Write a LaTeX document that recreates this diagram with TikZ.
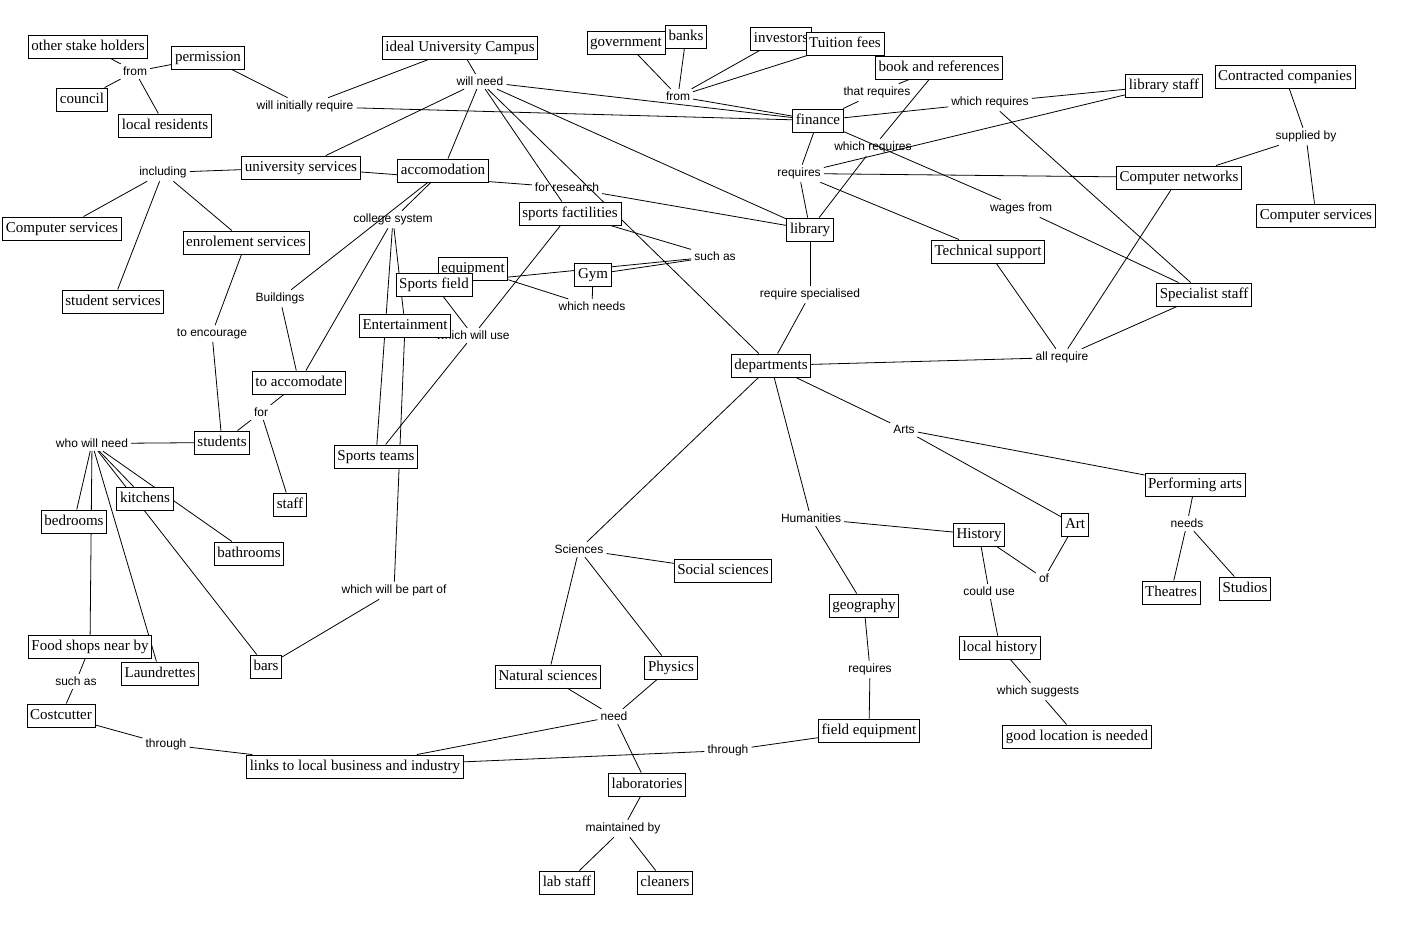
\documentclass[tikz,border=0pt]{standalone}
\usepackage{fontspec}
\setmainfont{Liberation Serif}
\newfontfamily\linkfont{Liberation Sans}
\usetikzlibrary{backgrounds}
\tikzset{
  concept/.style={draw, fill=white, line width=0.8pt, inner xsep=3.2pt, inner ysep=4.8pt,
    text height=10.5pt, text depth=3pt, font=\fontsize{15}{17}\selectfont},
  link/.style={inner sep=3pt, font=\linkfont\fontsize{12}{14}\selectfont},
  conn/.style={line width=0.8pt, black}
}
\begin{document}
\begin{tikzpicture}[x=1pt,y=-1pt]
\useasboundingbox (0,-1.5) rectangle (1418,931.5);
% link phrases
\node[link] (lFrom1) at (135,70) {from};
\node[link] (lWIR) at (305,105) {will initially require};
\node[link] (lWN) at (480,80) {will need};
\node[link] (lFrom2) at (678,95) {from};
\node[link] (lTR) at (877,91) {that requires};
\node[link] (lWR1) at (990,101) {which requires};
\node[link] (lWR2) at (873,146) {which requires};
\node[link] (lReq1) at (799,172) {requires};
\node[link] (lSup) at (1306,135) {supplied by};
\node[link] (lIncl) at (163,171) {including};
\node[link] (lForRes) at (567,186) {for research};
\node[link] (lColl) at (393,218) {college system};
\node[link] (lSuchAs1) at (715,255) {such as};
\node[link] (lWNeeds) at (592,305) {which needs};
\node[link] (lBuild) at (280,297) {Buildings};
\node[link] (lWages) at (1021,207) {wages from};
\node[link] (lReqSpec) at (810,293) {require specialised};
\node[link] (lEnc) at (212,332) {to encourage};
\node[link] (lWWU) at (473,334) {which will use};
\node[link] (lAllReq) at (1062,356) {all require};
\node[link] (lFor) at (261,411) {for};
\node[link] (lArts) at (904,428) {Arts};
\node[link] (lWWN) at (92,442) {who will need};
\node[link] (lHum) at (811,517) {Humanities};
\node[link] (lSci) at (579,548) {Sciences};
\node[link] (lNeeds) at (1187,522) {needs};
\node[link] (lOf) at (1044,577) {of};
\node[link] (lCould) at (989,590) {could use};
\node[link] (lPartOf) at (394,589) {which will be part of};
\node[link] (lReq2) at (870,668) {requires};
\node[link] (lSuchAs2) at (76,680) {such as};
\node[link] (lSugg) at (1038,690) {which suggests};
\node[link] (lNeed) at (614,715) {need};
\node[link] (lThr1) at (166,743) {through};
\node[link] (lThr2) at (728,749) {through};
\node[link] (lMaint) at (623,827) {maintained by};
% concepts
\node[concept] (osh) at (88,45) {other stake holders};
\node[concept] (perm) at (208,56) {permission};
\node[concept] (council) at (82,98) {council};
\node[concept] (locres) at (165,124) {local residents};
\node[concept] (iuc) at (460,46) {ideal University Campus};
\node[concept] (gov) at (626,41) {government};
\node[concept] (banks) at (686,35) {banks};
\node[concept] (invest) at (781,37) {investors};
\node[concept] (tuition) at (845,42) {Tuition fees};
\node[concept] (books) at (939,66) {book and references};
\node[concept] (libstaff) at (1164,84) {library staff};
\node[concept] (contracted) at (1285,75) {Contracted companies};
\node[concept] (finance) at (818,119) {finance};
\node[concept] (unisvc) at (301,166) {university services};
\node[concept] (accom) at (443,169) {accomodation};
\node[concept] (compnet) at (1179,176) {Computer networks};
\node[concept] (compsvcR) at (1316,214) {Computer services};
\node[concept] (compsvcL) at (62,227) {Computer services};
\node[concept] (enrol) at (246,241) {enrolement services};
\node[concept] (sportsfac) at (570,212) {sports factilities};
\node[concept] (library) at (810,228) {library};
\node[concept] (techsup) at (988,250) {Technical support};
\node[concept] (studsvc) at (113,300) {student services};
\node[concept] (equip) at (473,267) {equipment};
\node[concept] (sportsfield) at (434,283) {Sports field};
\node[concept] (gym) at (593,273) {Gym};
\node[concept] (specstaff) at (1204,293) {Specialist staff};
\node[concept] (entertain) at (405,324) {Entertainment};
\node[concept] (depts) at (771,364) {departments};
\node[concept] (toaccom) at (299,381) {to accomodate};
\node[concept] (students) at (222,441) {students};
\node[concept] (sportsteams) at (376,455) {Sports teams};
\node[concept] (perfarts) at (1195,483) {Performing arts};
\node[concept] (staff) at (290,503) {staff};
\node[concept] (kitchens) at (145,497) {kitchens};
\node[concept] (bedrooms) at (74,520) {bedrooms};
\node[concept] (art) at (1075,523) {Art};
\node[concept] (history) at (979,533) {History};
\node[concept] (bathrooms) at (249,552) {bathrooms};
\node[concept] (socsci) at (723,569) {Social sciences};
\node[concept] (theatres) at (1171,591) {Theatres};
\node[concept] (studios) at (1245,587) {Studios};
\node[concept] (geography) at (864,604) {geography};
\node[concept] (foodshops) at (90,645) {Food shops near by};
\node[concept] (laundrettes) at (160,672) {Laundrettes};
\node[concept] (bars) at (266,665) {bars};
\node[concept] (lochist) at (1000,646) {local history};
\node[concept] (physics) at (671,666) {Physics};
\node[concept] (natsci) at (548,675) {Natural sciences};
\node[concept] (costcutter) at (61,714) {Costcutter};
\node[concept] (fieldeq) at (869,729) {field equipment};
\node[concept] (goodloc) at (1077,735) {good location is needed};
\node[concept] (links) at (355,765) {links to local business and industry};
\node[concept] (labs) at (647,783) {laboratories};
\node[concept] (labstaff) at (567,881) {lab staff};
\node[concept] (cleaners) at (665,881) {cleaners};
% connectors
\begin{scope}[on background layer]
\foreach \a/\b in {osh/lFrom1, council/lFrom1, locres/lFrom1, perm/lFrom1,
  perm/lWIR, lWIR/iuc, lWIR/finance,
  iuc/lWN, lWN/finance, lWN/unisvc, lWN/accom, lWN/sportsfac, lWN/depts, lWN/library,
  gov/lFrom2, banks/lFrom2, invest/lFrom2, tuition/lFrom2, lFrom2/finance,
  finance/lTR, lTR/books, books/lWR2, lWR2/library,
  finance/lWR1, lWR1/libstaff, lWR1/specstaff,
  finance/lReq1, lReq1/library, lReq1/libstaff, lReq1/compnet, lReq1/techsup,
  finance/lWages, lWages/specstaff,
  contracted/lSup, lSup/compsvcR, lSup/compnet,
  compnet/lAllReq, techsup/lAllReq, specstaff/lAllReq, lAllReq/depts,
  library/lReqSpec, lReqSpec/depts,
  unisvc/lIncl, lIncl/compsvcL, lIncl/studsvc, lIncl/enrol,
  unisvc/lForRes, lForRes/library,
  accom/lColl, accom/lBuild, lBuild/toaccom, lColl/toaccom, lColl/sportsteams, lColl/entertain,
  entertain/lPartOf, lPartOf/bars,
  sportsfac/lWWU, sportsfield/lWWU, lWWU/sportsteams,
  sportsfac/lSuchAs1, lSuchAs1/gym, lSuchAs1/sportsfield,
  gym/lWNeeds, lWNeeds/equip,
  enrol/lEnc, lEnc/students,
  students/lFor, lFor/toaccom, lFor/staff,
  students/lWWN, lWWN/bedrooms, lWWN/foodshops, lWWN/laundrettes, lWWN/kitchens, lWWN/bars, lWWN/bathrooms,
  foodshops/lSuchAs2, lSuchAs2/costcutter, costcutter/lThr1, lThr1/links,
  depts/lArts, lArts/perfarts, lArts/art,
  depts/lHum, lHum/history, lHum/geography,
  history/lOf, lOf/art, history/lCould, lCould/lochist, lochist/lSugg, lSugg/goodloc,
  perfarts/lNeeds, lNeeds/theatres, lNeeds/studios,
  geography/lReq2, lReq2/fieldeq, fieldeq/lThr2, lThr2/links,
  depts/lSci, lSci/socsci, lSci/natsci, lSci/physics,
  natsci/lNeed, physics/lNeed, lNeed/links, lNeed/labs,
  labs/lMaint, lMaint/labstaff, lMaint/cleaners}
  \draw[conn] (\a) -- (\b);
\end{scope}
\end{tikzpicture}
\end{document}
